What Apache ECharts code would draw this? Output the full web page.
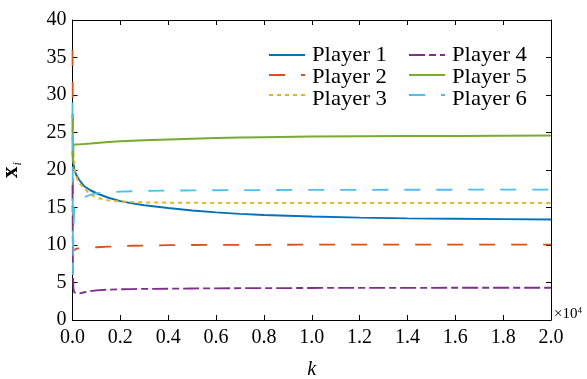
<!DOCTYPE html>
<html>
<head>
<meta charset="utf-8">
<script src="https://cdn.jsdelivr.net/npm/echarts@6/dist/echarts.min.js"></script>
<style>
  html, body { margin: 0; padding: 0; background: #fff; }
  #chart { width: 587px; height: 379px; }
</style>
</head>
<body>
<div id="chart"></div>
<script>
// k in units of 1e4
var kValues = [0, 0.001, 0.002, 0.004, 0.007, 0.01, 0.015, 0.02, 0.03, 0.05, 0.075, 0.1, 0.15, 0.2, 0.25, 0.3, 0.4, 0.5, 0.6, 0.7, 0.8, 1.0, 1.2, 1.4, 1.6, 1.8, 2.0];

var player1 = [22.5, 22.0, 21.5, 20.8, 20.2, 19.8, 19.4, 19.1, 18.6, 17.8, 17.3, 16.9, 16.3, 15.85, 15.55, 15.3, 14.92, 14.6, 14.35, 14.15, 14.0, 13.8, 13.65, 13.55, 13.5, 13.45, 13.4];
var player2 = [36.0, 30.0, 9.2, 9.35, 9.42, 9.46, 9.5, 9.52, 9.55, 9.6, 9.65, 9.7, 9.78, 9.85, 9.9, 9.93, 9.97, 10.0, 10.01, 10.02, 10.03, 10.04, 10.05, 10.05, 10.05, 10.05, 10.05];
var player3 = [25.5, 24.0, 23.0, 21.8, 20.7, 20.0, 19.3, 18.8, 18.2, 17.5, 16.8, 16.3, 15.95, 15.8, 15.72, 15.68, 15.64, 15.62, 15.61, 15.6, 15.6, 15.6, 15.6, 15.6, 15.6, 15.6, 15.6];
var player4 = [18.0, 12.0, 6.0, 4.2, 3.7, 3.55, 3.5, 3.5, 3.55, 3.7, 3.85, 3.95, 4.05, 4.1, 4.13, 4.15, 4.17, 4.2, 4.22, 4.24, 4.25, 4.27, 4.28, 4.29, 4.3, 4.3, 4.3];
var player5 = [27.5, 24.0, 21.0, 23.4, 23.4, 23.4, 23.4, 23.4, 23.42, 23.46, 23.52, 23.6, 23.72, 23.82, 23.9, 23.97, 24.08, 24.18, 24.26, 24.33, 24.38, 24.46, 24.5, 24.53, 24.55, 24.57, 24.6];
var player6 = [29.0, 17.0, 6.0, 12.0, 14.5, 15.3, 15.7, 15.9, 16.1, 16.4, 16.7, 16.9, 17.05, 17.12, 17.17, 17.2, 17.25, 17.28, 17.3, 17.32, 17.33, 17.35, 17.36, 17.37, 17.37, 17.38, 17.38];

var playerNames = ['Player 1', 'Player 2', 'Player 3', 'Player 4', 'Player 5', 'Player 6'];
var playerData = [player1, player2, player3, player4, player5, player6];
var colors = ['#0072BD', '#D95319', '#EDB120', '#7E2F8E', '#77AC30', '#4DBEEE'];
var dashes = ['solid', [16, 16], [4, 4], [16, 4, 7, 4], 'solid', [16, 16]];
var widths = [2, 1.8, 2, 1.8, 2, 1.8];

var xTicks = { min: 0, max: 2, interval: 0.2 };
var yTicks = { min: 0, max: 40, interval: 5 };

var font = 'Liberation Serif';

function pairs(ys) {
    return kValues.map(function (k, i) { return [k, ys[i]]; });
}

var series = playerNames.map(function (name, i) {
    return {
        name: name,
        type: 'line',
        data: pairs(playerData[i]),
        symbol: 'none',
        showSymbol: false,
        xAxisIndex: 0,
        yAxisIndex: 0,
        color: colors[i],
        lineStyle: { color: colors[i], width: widths[i], type: dashes[i] }
    };
});

var axisBase = {
    axisLine: { show: true, onZero: false, lineStyle: { color: '#000', width: 1 } },
    axisTick: { show: true, inside: true, length: 5, lineStyle: { color: '#000' } },
    splitLine: { show: false }
};

var serifText = { fontFamily: font, fontSize: 20, color: '#000' };

// legend draws the line samples; names are written next to them as serif text
var legendCols = [263, 403];
var legendTop = 40;
var rowStep = 22;

function makeLegend(names, left) {
    return {
        data: names,
        orient: 'vertical',
        left: left, top: legendTop,
        itemWidth: 36, itemHeight: 20, itemGap: rowStep - 20,
        itemStyle: { opacity: 0 },
        formatter: function () { return ''; },
        textStyle: { fontSize: 1 }
    };
}

var legendLabels = playerNames.map(function (n, i) {
    var col = Math.floor(i / 3), row = i % 3;
    return {
        type: 'text',
        x: legendCols[col] + 49,
        y: legendTop + 5 + 10 + row * rowStep,
        scaleX: 1.08,
        style: {
            text: '{t|' + n + '}',
            rich: { t: { fontFamily: font, fontSize: 21, fill: '#000' } },
            verticalAlign: 'middle',
            textVerticalAlign: 'middle'
        }
    };
});

var option = {
    backgroundColor: '#fff',
    animation: false,
    textStyle: { fontFamily: font },
    grid: { left: 72.5, right: 36, top: 20, bottom: 59, outerBoundsMode: 'none', containLabel: false },
    legend: [makeLegend(playerNames.slice(0, 3), legendCols[0]), makeLegend(playerNames.slice(3), legendCols[1])],
    xAxis: [Object.assign({
        type: 'value',
        position: 'bottom',
        min: xTicks.min, max: xTicks.max, interval: xTicks.interval,
        name: '{k|k}',
        nameLocation: 'middle',
        nameGap: 40,
        nameTextStyle: { rich: { k: { fontFamily: font, fontStyle: 'italic', fontSize: 20, color: '#000' } } },
        axisLabel: {
            margin: 8,
            formatter: function (v) { return '{t|' + v.toFixed(1) + '}'; },
            rich: { t: serifText }
        }
    }, axisBase), Object.assign({
        type: 'value',
        position: 'top',
        min: xTicks.min, max: xTicks.max, interval: xTicks.interval,
        axisLabel: { show: false }
    }, axisBase)],
    yAxis: [Object.assign({
        type: 'value',
        position: 'left',
        min: yTicks.min, max: yTicks.max, interval: yTicks.interval,
        name: '{x|x}{i|i}',
        nameLocation: 'middle',
        nameRotate: 90,
        nameGap: 49,
        nameTextStyle: {
            rich: {
                x: { fontFamily: font, fontWeight: 'bold', fontSize: 23, color: '#000' },
                i: { fontFamily: font, fontStyle: 'italic', fontSize: 12, color: '#000', padding: [12, 0, 0, 1] }
            }
        },
        axisLabel: {
            margin: 6,
            formatter: function (v) { return '{t|' + v + '}'; },
            rich: { t: serifText }
        }
    }, axisBase), Object.assign({
        type: 'value',
        position: 'right',
        min: yTicks.min, max: yTicks.max, interval: yTicks.interval,
        axisLabel: { show: false }
    }, axisBase)],
    graphic: legendLabels.concat([{
        type: 'text',
        left: 554, top: 306,
        style: {
            text: '{a|×10}{b|4}',
            rich: {
                a: { fontFamily: font, fontSize: 15, fill: '#000' },
                b: { fontFamily: font, fontSize: 9, fill: '#000', padding: [0, 0, 8, 0] }
            }
        }
    }]),
    series: series
};

var myChart = echarts.init(document.getElementById('chart'));
myChart.setOption(option);
</script>
</body>
</html>
